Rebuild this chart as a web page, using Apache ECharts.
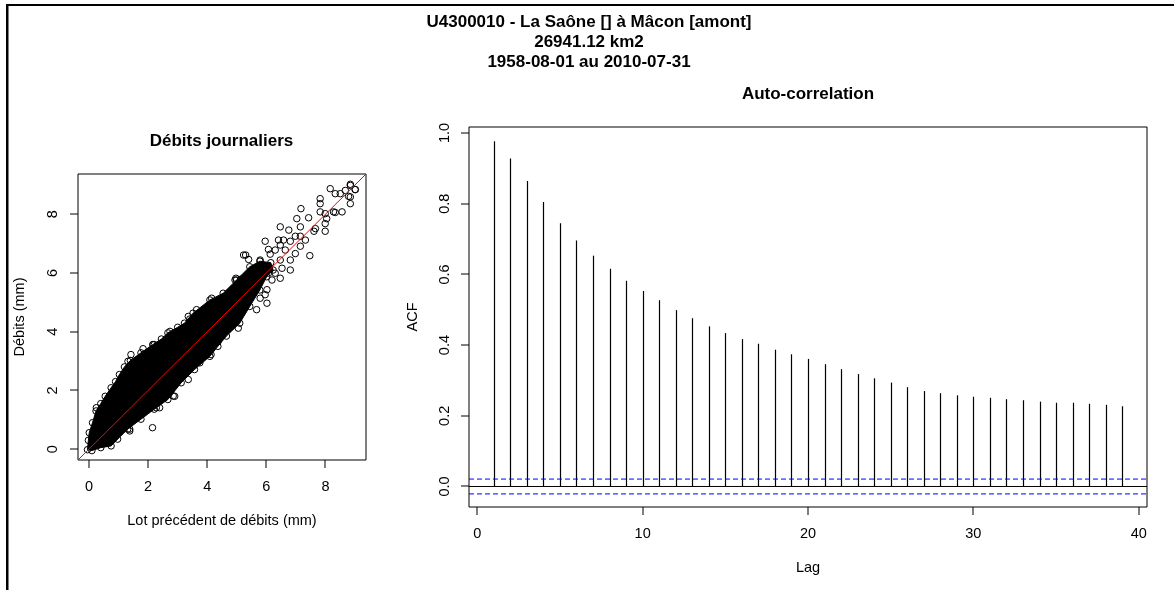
<!DOCTYPE html>
<html>
<head>
<meta charset="utf-8">
<script src="https://cdn.jsdelivr.net/npm/echarts@6/dist/echarts.min.js"></script>
<style>
html,body{margin:0;padding:0;background:#fff;}
#chart{width:1174px;height:590px;}
</style>
</head>
<body>
<div id="chart"></div>
<script>
// ---------- DATA ----------
const titleLines = ['U4300010 - La Saône [] à Mâcon [amont]', '26941.12 km2', '1958-08-01 au 2010-07-31'];
const scatterTitle = 'Débits journaliers';
const acfTitle = 'Auto-correlation';
const scatterXName = 'Lot précédent de débits (mm)';
const scatterYName = 'Débits (mm)';
const acfXName = 'Lag';
const acfYName = 'ACF';

const scatterTicks = [0, 2, 4, 6, 8];
const scatterRange = [-0.37, 9.37];

// outline of the dense cloud of daily points (x = previous day, y = day)
const blobOutline = [
  [-0.05, -0.02], [-0.02, 0.30], [0.01, 0.56], [0.12, 0.90], [0.24, 1.30], [0.40, 1.55],
  [0.55, 1.80], [0.75, 2.09], [0.90, 2.30], [1.03, 2.54], [1.20, 2.80], [1.40, 3.02],
  [1.76, 3.28], [2.16, 3.56], [2.45, 3.75], [2.67, 3.96], [3.00, 4.15], [3.23, 4.29],
  [3.52, 4.63], [4.09, 5.08], [4.54, 5.31], [4.99, 5.76], [5.44, 6.21], [5.78, 6.40],
  [6.15, 6.35], [6.23, 6.10], [6.01, 5.87], [5.78, 5.42], [5.44, 4.86], [5.10, 4.29],
  [4.65, 3.85], [4.36, 3.50], [4.09, 3.16], [3.57, 2.71], [3.12, 2.26], [2.67, 1.69],
  [2.21, 1.36], [1.76, 1.02], [1.31, 0.68], [0.97, 0.34], [0.75, 0.11], [0.40, 0.05],
  [0.10, -0.05]
];
// individual circles on the edge of the cloud
const edgePoints = [
  [0.25, 1.41], [0.40, 1.36], [1.32, 2.99], [1.42, 3.22], [1.83, 3.42], [2.17, 3.56],
  [2.21, 3.56], [2.74, 4.01], [3.07, 4.01], [3.36, 4.52], [3.41, 4.43], [3.64, 4.75],
  [4.15, 5.14], [4.94, 5.76], [1.38, 0.62], [1.38, 0.68], [2.28, 1.41], [2.39, 1.41],
  [2.85, 1.81], [2.90, 1.80], [3.36, 2.37], [3.75, 2.94], [4.13, 3.22], [4.37, 3.67],
  [5.05, 4.12], [5.67, 4.75], [2.15, 0.73]
];
// sparse high-flow points
const outlierPoints = [
  [8.16, 8.87], [8.33, 8.70], [8.50, 8.70], [8.67, 8.81], [8.84, 8.98], [9.01, 8.84],
  [8.78, 8.61], [8.84, 8.36], [8.56, 8.08], [8.33, 8.06], [7.82, 8.53], [7.82, 8.36],
  [7.17, 8.19], [7.82, 8.08], [7.99, 8.02], [7.03, 7.85], [7.43, 7.88], [8.04, 7.85],
  [7.99, 7.68], [6.47, 7.57], [6.76, 7.46], [7.15, 7.57], [7.61, 7.42], [7.66, 7.51],
  [7.99, 7.42], [5.96, 7.08], [6.41, 7.12], [6.58, 7.12], [6.81, 7.08], [6.98, 7.25],
  [7.15, 7.25], [7.32, 7.12], [7.15, 6.91], [6.98, 6.66], [7.47, 6.59], [6.47, 6.95],
  [6.30, 6.78], [6.64, 6.78], [6.07, 6.80], [6.13, 6.64], [5.23, 6.61], [5.40, 6.46],
  [5.79, 6.44], [6.47, 6.44], [6.81, 6.44], [6.81, 6.10], [6.53, 6.16], [6.30, 5.99],
  [6.47, 5.82], [6.07, 5.99], [6.19, 5.76], [4.97, 5.82], [5.14, 5.79], [6.02, 5.43],
  [5.96, 5.26], [6.02, 4.97], [5.79, 5.14], [5.30, 6.61], [8.84, 8.59], [9.00, 8.84],
  [8.84, 9.02], [8.27, 8.08]
];

const acfLags = [1,2,3,4,5,6,7,8,9,10,11,12,13,14,15,16,17,18,19,20,21,22,23,24,25,26,27,28,29,30,31,32,33,34,35,36,37,38,39];
const acfValues = [0.977,0.928,0.864,0.805,0.745,0.696,0.653,0.616,0.582,0.553,0.527,0.499,0.476,0.453,0.434,0.417,0.404,0.387,0.374,0.361,0.346,0.332,0.318,0.306,0.294,0.281,0.270,0.264,0.258,0.254,0.251,0.247,0.244,0.240,0.237,0.237,0.234,0.231,0.227];
const acfXTicks = [0, 10, 20, 30, 40];
const acfYTicks = [0, 0.2, 0.4, 0.6, 0.8, 1.0];
const acfXRange = [-0.5, 40.5];
const acfYRange = [-0.058, 1.017];
const ciBound = 0.021;

// ---------- CHART ----------
const FONT = '"Liberation Sans", Arial, sans-serif';
const LABEL_SIZE = 14.5;
const TITLE_FONT = 'bold 17px ' + FONT;
const TICK_LEN = 8;
const G0 = {left: 78, top: 174, width: 288, height: 286};
const G1 = {left: 469, top: 127, width: 678, height: 380};
const chart = echarts.init(document.getElementById('chart'), null, {renderer: 'canvas'});

function axisCommon(ticks, fmt, rotate, margin) {
  return {
    axisLine: {show: false, onZero: false},
    splitLine: {show: false},
    axisTick: {show: false},
    axisLabel: {customValues: ticks, formatter: fmt, rotate: rotate, margin: margin, color: '#000', fontSize: LABEL_SIZE, fontFamily: FONT},
    nameTextStyle: {color: '#000', fontSize: LABEL_SIZE, fontFamily: FONT}
  };
}

const baseGraphics = [
  {type: 'rect', shape: {x: 6, y: 4, width: 1168, height: 2}, style: {fill: '#000'}, silent: true},
  {type: 'rect', shape: {x: 6, y: 4, width: 2.5, height: 586}, style: {fill: '#000'}, silent: true},
  {type: 'text', x: 589, y: 22.7, style: {text: titleLines[0], align: 'center', verticalAlign: 'middle', font: TITLE_FONT, fill: '#000'}, silent: true},
  {type: 'text', x: 589, y: 42.7, style: {text: titleLines[1], align: 'center', verticalAlign: 'middle', font: TITLE_FONT, fill: '#000'}, silent: true},
  {type: 'text', x: 589, y: 62.7, style: {text: titleLines[2], align: 'center', verticalAlign: 'middle', font: TITLE_FONT, fill: '#000'}, silent: true},
  {type: 'text', x: 221.5, y: 141, style: {text: scatterTitle, align: 'center', verticalAlign: 'middle', font: TITLE_FONT, fill: '#000'}, silent: true},
  {type: 'text', x: 808, y: 94.3, style: {text: acfTitle, align: 'center', verticalAlign: 'middle', font: TITLE_FONT, fill: '#000'}, silent: true}
];

const option = {
  animation: false,
  backgroundColor: '#fff',
  grid: [
    Object.assign({show: true, borderColor: '#000', borderWidth: 1, backgroundColor: 'transparent', containLabel: false}, G0),
    Object.assign({show: true, borderColor: '#000', borderWidth: 1, backgroundColor: 'transparent', containLabel: false}, G1)
  ],
  xAxis: [
    Object.assign({gridIndex: 0, type: 'value', min: scatterRange[0], max: scatterRange[1],
      name: scatterXName, nameLocation: 'middle', nameGap: 53.5}, axisCommon(scatterTicks, v => String(v), 0, 19.5)),
    Object.assign({gridIndex: 1, type: 'value', min: acfXRange[0], max: acfXRange[1],
      name: acfXName, nameLocation: 'middle', nameGap: 53.5}, axisCommon(acfXTicks, v => String(v), 0, 19.5))
  ],
  yAxis: [
    Object.assign({gridIndex: 0, type: 'value', min: scatterRange[0], max: scatterRange[1],
      name: scatterYName, nameLocation: 'middle', nameGap: 50.5, nameRotate: 90}, axisCommon(scatterTicks, v => String(v), 90, 17.5)),
    Object.assign({gridIndex: 1, type: 'value', min: acfYRange[0], max: acfYRange[1],
      name: acfYName, nameLocation: 'middle', nameGap: 48.5, nameRotate: 90}, axisCommon(acfYTicks, v => v.toFixed(1), 90, 17))
  ],
  series: [
    {
      type: 'custom', xAxisIndex: 0, yAxisIndex: 0, silent: true, z: 2,
      data: [blobOutline[0]],
      renderItem: function (params, api) {
        return {type: 'polygon', shape: {points: blobOutline.map(p => api.coord(p))}, style: {fill: '#000', stroke: '#000', lineWidth: 1}};
      }
    },
    {
      type: 'scatter', xAxisIndex: 0, yAxisIndex: 0, silent: true, z: 3,
      symbol: 'circle', symbolSize: 6.5,
      itemStyle: {color: 'rgba(0,0,0,0)', borderColor: '#000', borderWidth: 1, opacity: 1},
      data: blobOutline.concat(edgePoints, outlierPoints)
    },
    {
      type: 'line', xAxisIndex: 0, yAxisIndex: 0, silent: true, z: 4, symbol: 'none',
      lineStyle: {color: '#ff0000', width: 1},
      data: [[scatterRange[0], scatterRange[0]], [scatterRange[1], scatterRange[1]]]
    },
    {
      type: 'custom', xAxisIndex: 1, yAxisIndex: 1, silent: true, z: 3,
      data: acfLags.map((l, i) => [l, acfValues[i]]),
      renderItem: function (params, api) {
        const p0 = api.coord([api.value(0), 0]);
        const p1 = api.coord([api.value(0), api.value(1)]);
        const x = Math.round(p0[0]) + 0.5;
        return {type: 'line', shape: {x1: x, y1: p0[1], x2: x, y2: p1[1]}, style: {stroke: '#000', lineWidth: 1.2}};
      }
    },
    {
      type: 'line', xAxisIndex: 1, yAxisIndex: 1, silent: true, z: 4, symbol: 'none',
      lineStyle: {color: '#000', width: 1},
      data: [[acfXRange[0], 0], [acfXRange[1], 0]]
    },
    {
      type: 'line', xAxisIndex: 1, yAxisIndex: 1, silent: true, z: 4, symbol: 'none',
      lineStyle: {color: '#0000ff', width: 1, type: [5, 3]},
      data: [[acfXRange[0], ciBound], [acfXRange[1], ciBound]]
    },
    {
      type: 'line', xAxisIndex: 1, yAxisIndex: 1, silent: true, z: 4, symbol: 'none',
      lineStyle: {color: '#0000ff', width: 1, type: [5, 3]},
      data: [[acfXRange[0], -ciBound], [acfXRange[1], -ciBound]]
    }
  ],
  graphic: baseGraphics
};
chart.setOption(option);

// ---------- tick marks (filled rects just outside each plot box) ----------
function toPixel(seriesIndex, pt, xRange, yRange, grid) {
  let p = null;
  try { p = chart.convertToPixel({seriesIndex: seriesIndex}, pt); } catch (e) { p = null; }
  if (!p || !isFinite(p[0]) || !isFinite(p[1])) {
    p = [grid.left + (pt[0] - xRange[0]) / (xRange[1] - xRange[0]) * grid.width,
         grid.top + grid.height - (pt[1] - yRange[0]) / (yRange[1] - yRange[0]) * grid.height];
  }
  return p;
}
function tickRects(seriesIndex, xTicks, yTicks, xRange, yRange, grid) {
  const out = [];
  xTicks.forEach(v => {
    const p = toPixel(seriesIndex, [v, yRange[0]], xRange, yRange, grid);
    out.push({type: 'rect', silent: true, z: 100, shape: {x: Math.round(p[0]) - 0.5, y: p[1], width: 1, height: TICK_LEN}, style: {fill: '#000'}});
  });
  yTicks.forEach(v => {
    const p = toPixel(seriesIndex, [xRange[0], v], xRange, yRange, grid);
    out.push({type: 'rect', silent: true, z: 100, shape: {x: p[0] - TICK_LEN, y: Math.round(p[1]) - 0.5, width: TICK_LEN, height: 1}, style: {fill: '#000'}});
  });
  return out;
}
let tickGraphics = [];
try {
  tickGraphics = tickRects(2, scatterTicks, scatterTicks, scatterRange, scatterRange, G0)
    .concat(tickRects(4, acfXTicks, acfYTicks, acfXRange, acfYRange, G1));
} catch (e) { tickGraphics = []; }
chart.setOption({graphic: baseGraphics.concat(tickGraphics)});
</script>
</body>
</html>
